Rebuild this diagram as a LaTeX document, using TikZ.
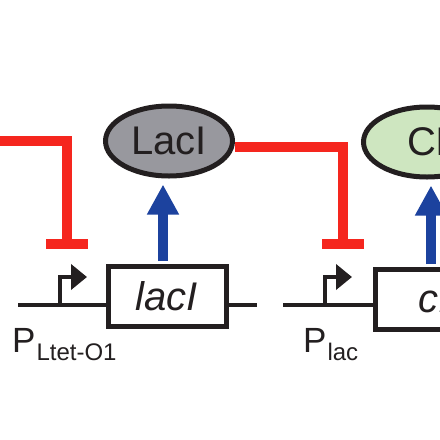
\documentclass[tikz,border=0pt]{standalone}
\usepackage{fontspec}
\setmainfont{Liberation Sans}
\usetikzlibrary{arrows.meta,shapes.geometric}
\definecolor{inhred}{RGB}{245,38,30}
\definecolor{exprblue}{RGB}{28,66,158}
\definecolor{lacgray}{RGB}{152,152,158}
\definecolor{cigreen}{RGB}{206,230,192}
\definecolor{ink}{RGB}{35,31,32}

\begin{document}
\begin{tikzpicture}[x=1pt, y=-1pt,
	every node/.style={font=\fontsize{40}{48}\selectfont, inner sep=0pt, text=ink},
	protein/.style={ellipse, draw=ink, line width=5pt, minimum width=127pt, minimum height=70pt},
	gene/.style={rectangle, draw=ink, line width=5pt, fill=white, minimum width=118pt, minimum height=60pt},
	dna/.style={ink, line width=4pt},
	prom/.style={ink, line width=4pt, -{Triangle[width=25pt, length=16pt]}},
	express/.style={exprblue, line width=10pt, -{Triangle[width=30pt, length=30pt]}, shorten >=6pt, shorten <=2.5pt},
	repress/.style={inhred, line width=10pt},
	plabel/.style={anchor=base west, font=\fontsize{35}{40}\selectfont}]
	\useasboundingbox (0,0) rectangle (440,440);
	\clip (0,0) rectangle (440,440);
	\node[protein, fill=lacgray] (lacIprot) at (169,141) {LacI};
	\node[protein, fill=cigreen] (cIprot) at (427,142) {CI};
	\coordinate (tetStart) at (18,305);
	\coordinate (lacIEnd) at (257,305);
	\coordinate (lacStart) at (283,305);
	\coordinate (pTet) at (60,305);
	\coordinate (pLac) at (325,305);
	\draw[dna] (tetStart) -- (lacIEnd);
	\draw[dna] (lacStart) -- (440,305);
	\node[gene] (lacIgene) at (167,296) {\itshape lacI};
	\node[gene] (cIgene) at (434,299) {\itshape cI};
	\draw[prom] (pTet) -- ++(0,-28) -- ++(27,0);
	\draw[prom] (pLac) -- ++(0,-28) -- ++(27,0);
	\draw[express] ([xshift=-4pt]lacIgene.north) -- ([xshift=-4pt]lacIgene.north |- lacIprot.south);
	\draw[express] ([xshift=-3pt]cIgene.north) -- ([xshift=-3pt]cIgene.north |- cIprot.south);
	\coordinate (fromLeft) at (0,141);
	\coordinate (tetOp) at (67,244);
	\coordinate (lacOp) at (343,244);
	\draw[repress] (fromLeft) -| (tetOp);
	\draw[repress] ([xshift=-21pt]tetOp) -- ([xshift=21pt]tetOp);
	\draw[repress] ([yshift=-6pt]lacIprot.east) -| (lacOp);
	\draw[repress] ([xshift=-21pt]lacOp) -- ([xshift=21pt]lacOp);
	\node[plabel] (tetLabel) at (12,352) {P\kern1pt\raisebox{-8pt}{\fontsize{24}{28}\selectfont Ltet-O1}};
	\node[plabel] (lacLabel) at (303,352) {P\kern1pt\raisebox{-8pt}{\fontsize{24}{28}\selectfont lac}};
\end{tikzpicture}
\end{document}
